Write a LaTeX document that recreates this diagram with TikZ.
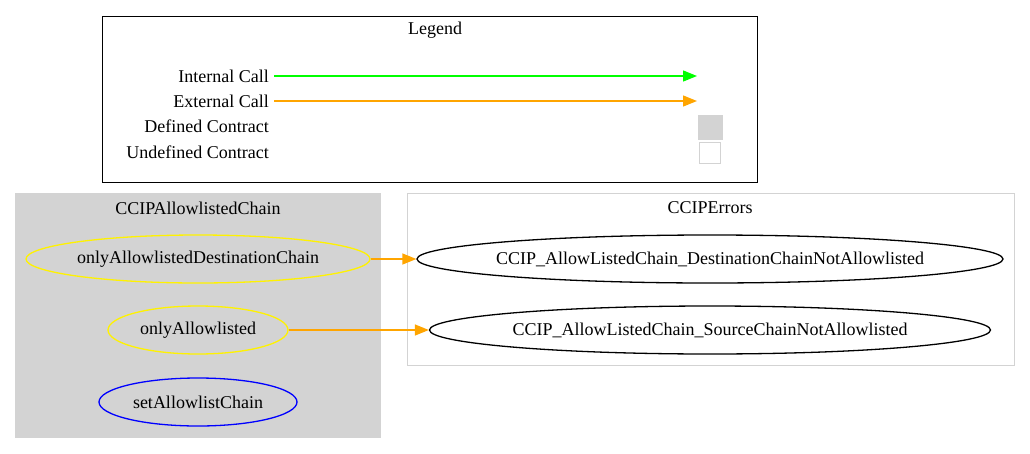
\documentclass[tikz,border=0pt]{standalone}
\usepackage{fontspec}
\setmainfont{Liberation Serif}
\usepackage{tikz}
\usetikzlibrary{shapes.geometric,arrows.meta}
\definecolor{clustergray}{RGB}{211,211,211}
\definecolor{callgreen}{RGB}{0,255,0}
\definecolor{callorange}{RGB}{255,165,0}

\begin{document}
\begin{tikzpicture}[x=1pt,y=-1pt,
    func/.style={shape=ellipse,draw,line width=1.3pt,inner xsep=-20pt,inner ysep=0pt,minimum height=48pt,font=\fontsize{18}{20}\selectfont},
    lbl/.style={inner sep=0pt,font=\fontsize{18}{20}\selectfont},
    call/.style={line width=1.3pt,-{Triangle[length=14pt,width=11pt]}}]
    \useasboundingbox (0,0) rectangle (1030,453);

    % legend
    \draw[black,line width=0.9pt] (102,16) rectangle (757,182);
    \node[lbl] (legend) at (435,30) {Legend};
    \node[lbl,anchor=east] (internal) at (269,76) {Internal Call};
    \node[lbl,anchor=east] (external) at (269,101) {External Call};
    \node[lbl,anchor=east] (defined) at (269,126) {Defined Contract};
    \node[lbl,anchor=east] (undefined) at (269,152) {Undefined Contract};
    \coordinate (internalend) at (697,76);
    \coordinate (externalend) at (697,101);
    \draw[call,callgreen] (internal.east) ++(5,0) -- (internalend);
    \draw[call,callorange] (external.east) ++(5,0) -- (externalend);
    \node[fill=clustergray,minimum width=25pt,minimum height=25pt,inner sep=0pt] (definedbox) at (710,127) {};
    \node[draw=clustergray,line width=1pt,fill=white,minimum width=21pt,minimum height=21pt,inner sep=0pt] (undefinedbox) at (710,153) {};

    % clusters
    \fill[clustergray] (15,193) rectangle (381,438);
    \node[lbl] (chain) at (198,208) {CCIPAllowlistedChain};
    \draw[clustergray,line width=1pt] (407,193) rectangle (1014,365);
    \node[lbl] (errors) at (710,208) {CCIPErrors};

    % functions
    \node[func,yellow,minimum width=344pt,text=black] (dest) at (198,259) {onlyAllowlistedDestinationChain};
    \node[func,yellow,minimum width=180pt,text=black] (only) at (198,330) {onlyAllowlisted};
    \node[func,blue,minimum width=198pt,text=black] (set) at (198,402) {setAllowlistChain};
    \node[func,black,minimum width=586pt] (desterr) at (710,259) {CCIP\_AllowListedChain\_DestinationChainNotAllowlisted};
    \node[func,black,minimum width=561pt] (srcerr) at (710,330) {CCIP\_AllowListedChain\_SourceChainNotAllowlisted};

    \draw[call,callorange] (dest) -- (desterr);
    \draw[call,callorange] (only) -- (srcerr);
\end{tikzpicture}
\end{document}
